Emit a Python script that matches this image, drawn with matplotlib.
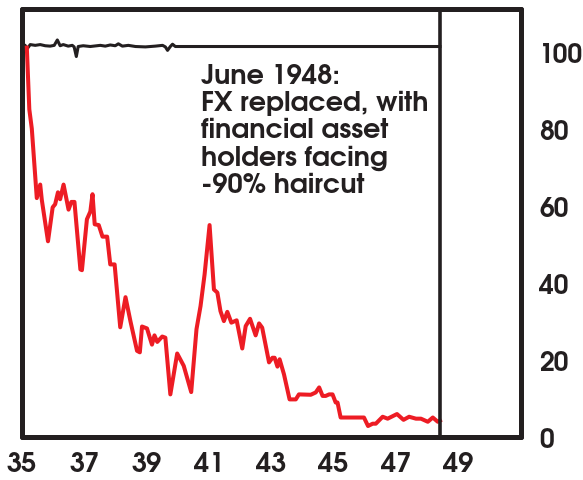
import matplotlib
matplotlib.use("Agg")
import matplotlib.pyplot as plt

# Data
red_x = [35.15, 35.23, 35.31, 35.47, 35.58, 35.63, 35.83, 35.98, 36.06, 36.15, 36.22, 36.33,
         36.49, 36.58, 36.68, 36.87, 36.92, 37.08, 37.19, 37.26, 37.33, 37.46, 37.58, 37.73,
         37.83, 37.97, 38.15, 38.32, 38.48, 38.69, 38.78, 38.85, 39.01, 39.17, 39.25, 39.34,
         39.50, 39.60, 39.76, 39.98, 40.19, 40.43, 40.60, 40.73, 40.86, 41.02, 41.16, 41.27,
         41.37, 41.48, 41.59, 41.72, 41.89, 42.07, 42.18, 42.32, 42.50, 42.61, 42.71, 42.93,
         43.04, 43.11, 43.20, 43.27, 43.41, 43.59, 43.79, 43.89, 44.27, 44.43, 44.54, 44.65,
         44.75, 44.86, 44.97, 45.07, 45.13, 45.23, 45.98, 46.11, 46.26, 46.36, 46.58, 46.74,
         47.04, 47.25, 47.43, 47.65, 47.81, 48.03, 48.19, 48.35, 48.42]
red_y = [101, 85, 80, 62, 65.5, 61.6, 50.8, 59.6, 60.4, 63.5, 61.7, 65.5,
         59, 61, 61, 43.5, 43.3, 56.5, 58.5, 63, 55.2, 55, 52, 52,
         44.8, 44.8, 28.5, 36.3, 30, 22.4, 22, 28.7, 28.2, 24, 26.4, 24.7,
         26.1, 25.8, 11.1, 21.7, 18.5, 11.7, 28, 34, 42.2, 55, 38.3, 37.5,
         32.7, 30.1, 32.5, 29.7, 30.3, 23, 28.8, 30.7, 26.4, 29.5, 28.4, 19.4,
         20.6, 20.6, 18.3, 20.2, 16.3, 9.8, 9.8, 11.1, 11, 11.6, 12.9, 10.7,
         10.7, 11.1, 11.1, 9, 9, 5.1, 5.1, 2.9, 3.5, 3.5, 5.3, 4.8,
         6, 4.5, 5.3, 4.8, 4.8, 4, 5.1, 4, 4.3]

black_x = [35.10, 35.16, 35.26, 35.42, 35.58, 35.74, 35.90, 36.03, 36.13, 36.22, 36.32, 36.48,
           36.61, 36.67, 36.74, 36.80, 36.96, 37.19, 37.51, 37.67, 37.83, 37.99, 38.09, 38.22,
           38.41, 38.64, 38.96, 39.28, 39.51, 39.60, 39.67, 39.76, 39.83, 39.92, 48.42]
black_y = [101.5, 100.7, 101.8, 101.6, 101.8, 101.5, 101.4, 101.6, 103, 101.5, 101.8, 101.4,
           101.6, 101.2, 98.7, 101.3, 101.5, 101.3, 101.6, 101.4, 101.7, 101.5, 102, 101.4,
           101.6, 101.3, 101.2, 101.4, 101.6, 101.2, 100.3, 101.3, 101.9, 101.3, 101.3]

x_ticks = [35, 37, 39, 41, 43, 45, 47, 49]
x_labels = ["35", "37", "39", "41", "43", "45", "47", "49"]
y_ticks = [0, 20, 40, 60, 80, 100]
y_labels = ["0", "20", "40", "60", "80", "100"]
event_x = 48.42
annotation = "June 1948:\nFX replaced, with\nfinancial asset\nholders facing\n-90% haircut"

ink = "#231f20"
red = "#ed1c24"

plt.rcParams['font.family'] = ['TeX Gyre Adventor', 'DejaVu Sans']

fig = plt.figure(figsize=(5.83, 4.81), dpi=100)
ax = fig.add_axes([0.038, 0.089, 0.856, 0.890])

ax.plot(black_x, black_y, color=ink, lw=2.2, solid_joinstyle='round', zorder=3)
ax.plot(red_x, red_y, color=red, lw=2.9, solid_joinstyle='round', zorder=4)
ax.axvline(event_x, color=ink, lw=2.6, zorder=5)

ax.set_xlim(35, 51.03)
ax.set_ylim(0, 111)

ax.set_xticks(x_ticks)
ax.set_xticklabels(x_labels)
ax.set_yticks(y_ticks)
ax.set_yticklabels(y_labels)
ax.yaxis.tick_right()
ax.tick_params(axis='both', length=0, colors=ink)
ax.tick_params(axis='x', pad=10, labelsize=19.5)
ax.tick_params(axis='y', pad=13, labelsize=19)
for lab in ax.get_xticklabels() + ax.get_yticklabels():
    lab.set_fontweight('bold')
    lab.set_color(ink)

for s in ax.spines.values():
    s.set_linewidth(3.6)
    s.set_color(ink)
    s.set_capstyle('round')
    s.set_joinstyle('round')

ax.text(40.73, 97.0, annotation, fontsize=19.5, fontweight='bold', color=ink,
        ha='left', va='top', linespacing=1.1, zorder=6)

fig.savefig("out.png", dpi=100)
